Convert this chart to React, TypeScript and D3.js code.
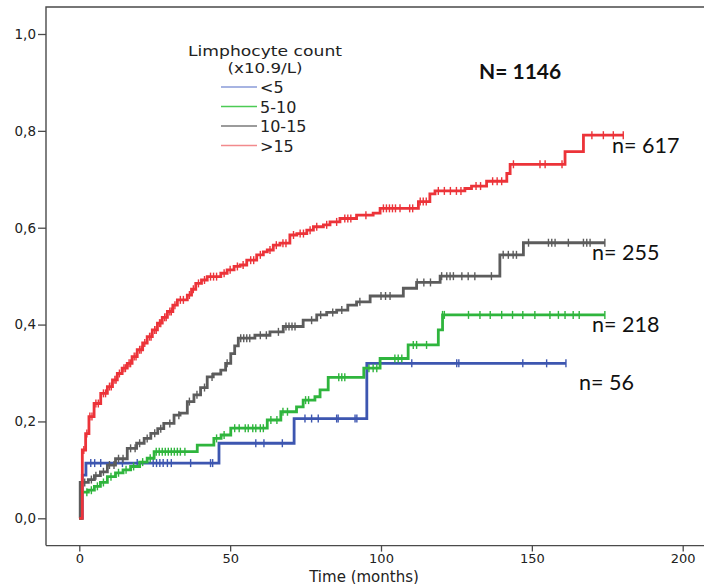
import React, { useEffect, useRef } from "react";
import * as d3 from "d3";

// cumulative incidence steps: [months, value]
const blueSteps = [[0, 0], [1, 0.089], [2.2, 0.114], [46.3, 0.155], [71.2, 0.206], [95.3, 0.32]];
const blueCensor = [3.8, 5.1, 7.1, 14.3, 19.2, 24.5, 25.6, 26.7, 27.8, 29.2, 30.5, 36.9, 43.5, 44.2, 58.5, 61.2, 67.3, 74.8, 77, 79.2, 85.3, 85.8, 91.4, 92, 110.2, 125.1, 125.8, 147, 154.9, 161.3];

const greenSteps = [[0, 0], [0.7, 0.054], [3, 0.058], [5, 0.066], [7, 0.074], [9.3, 0.086], [12, 0.094], [14.5, 0.1], [17, 0.107], [20, 0.116], [22.5, 0.124], [24.8, 0.1375], [39.1, 0.151], [44.6, 0.165], [47, 0.172], [50.2, 0.186], [62.3, 0.203], [66.8, 0.22], [72, 0.23], [74.2, 0.244], [78.1, 0.251], [79.8, 0.265], [82.5, 0.291], [94.3, 0.31], [99.7, 0.33], [109, 0.358], [119, 0.389], [120.4, 0.42]];
const greenCensor = [2.5, 4, 6, 8, 10.5, 13, 15.5, 18, 21, 23.5, 25.5, 26.5, 27.5, 28.5, 29.5, 30.5, 31.5, 32.5, 33.5, 35, 45.5, 48, 51.5, 53, 55, 56, 57.5, 58.5, 60, 61, 63.5, 65.5, 67.5, 69, 75, 76, 86, 87, 88, 96, 97.4, 98.6, 104.6, 105.7, 106.9, 110.7, 111.8, 115.1, 120.4, 121, 129, 132.8, 136.2, 140, 143.6, 147, 151, 156, 158.8, 161, 163.7, 165.7, 174.2];

const graySteps = [[0, 0], [0.3, 0.074], [3, 0.08], [5, 0.088], [7, 0.096], [9.3, 0.11], [12, 0.123], [15.9, 0.1445], [19, 0.155], [21.5, 0.165], [23.7, 0.1755], [26, 0.185], [28, 0.196], [31.4, 0.213], [33.4, 0.217], [35.8, 0.241], [38, 0.255], [40.2, 0.27], [42.4, 0.292], [44.4, 0.298], [46.9, 0.306], [48.5, 0.32], [50.2, 0.34], [51.5, 0.356], [52.7, 0.372], [58.2, 0.378], [63.2, 0.385], [67.6, 0.396], [74.2, 0.409], [78.7, 0.42], [82, 0.425], [85.3, 0.43], [89, 0.44], [91.9, 0.447], [96.4, 0.459], [107.4, 0.475], [111.8, 0.487], [119.6, 0.5], [139.4, 0.544], [147.2, 0.569]];
const grayCensor = [1.8, 4, 5.5, 8, 10, 11.5, 13, 14.5, 17, 18.5, 20, 22.5, 25, 27, 30, 33, 36.5, 39, 41.5, 44, 49, 53.5, 54.5, 55.5, 56.5, 60, 62, 66, 68.5, 69.5, 70.5, 71.5, 77, 80, 84, 87, 93, 100, 101.5, 103, 112, 114.2, 116.4, 120.1, 121.8, 122.9, 124, 126.8, 128.9, 131.1, 136.6, 140.5, 142.2, 143.8, 144.9, 148.9, 155.5, 156.6, 157.7, 162.1, 167.1, 168.2, 169.3, 174.2];

const redSteps = [[0, 0], [1, 0.141], [2.1, 0.175], [3.2, 0.21], [4.9, 0.237], [7.1, 0.258], [9.3, 0.272], [11, 0.286], [12.6, 0.299], [14.2, 0.31], [15.9, 0.32], [17.5, 0.334], [19.2, 0.348], [21, 0.362], [22.5, 0.375], [24.2, 0.389], [25.9, 0.403], [27.5, 0.415], [29.2, 0.427], [31, 0.44], [32.5, 0.451], [35.8, 0.461], [37.2, 0.473], [38.6, 0.485], [40.5, 0.492], [42.4, 0.499], [46.9, 0.506], [49, 0.513], [51.3, 0.52], [53.3, 0.523], [55.5, 0.533], [58.8, 0.544], [61, 0.55], [62.3, 0.554], [64.3, 0.564], [66.5, 0.568], [69.8, 0.585], [72.1, 0.588], [75.4, 0.595], [77.6, 0.602], [80.9, 0.606], [83.1, 0.612], [86.4, 0.619], [91.9, 0.626], [97.4, 0.63], [99.7, 0.64], [112.4, 0.654], [116.2, 0.67], [117.9, 0.676], [127.8, 0.681], [130, 0.686], [135, 0.696], [141.7, 0.712], [142.8, 0.731], [161, 0.757], [167.1, 0.791]];
const redCensor = [1.5, 2.5, 3.5, 4.2, 5.5, 6.3, 8, 8.7, 10, 10.6, 11.8, 12.2, 13.3, 14.8, 15.3, 16.5, 17, 18.2, 18.8, 20, 20.5, 21.7, 23.3, 23.8, 25, 25.5, 26.6, 27, 28.3, 28.8, 30, 30.5, 31.7, 33.5, 34.5, 36.5, 37.8, 39.5, 41.5, 43.5, 44.5, 45.5, 48, 50, 52.4, 54.3, 56.8, 57.8, 60, 63.2, 65.3, 67.5, 68.5, 71, 73.2, 74.3, 76.5, 78.7, 82, 85.3, 88, 89, 90, 95, 100.8, 101.8, 102.8, 103.8, 104.8, 106.3, 109.5, 110.5, 113, 114, 115, 119, 121, 123, 125, 126.5, 131.5, 133, 137, 138.5, 140, 143.9, 152.7, 154.4, 160, 169.9, 173.7, 177, 180.3];

const groups = ["<5", "5-10", "10-15", ">15"];
const groupN = ["n= 56", "n= 218", "n= 255", "n= 617"];
const yTicks = [0, 0.2, 0.4, 0.6, 0.8, 1.0];
const xTicks = [0, 50, 100, 150, 200];

const App = () => {
  const chartRef = useRef(null);

  useEffect(() => {
    const svg = d3.select(chartRef.current);
    svg.selectAll("*").remove();

    const x = d3.scaleLinear().domain([0, 200]).range([79.3, 682.7]);
    const y = d3.scaleLinear().domain([0, 1]).range([518.3, 34]);
    const left = 46, top = 7, bottom = 545.6;
    const axisFont = "'DejaVu Sans', sans-serif";

    // frame
    svg.append("path")
      .attr("d", `M${left},${bottom}V${top}H712M${left},${bottom}H712`)
      .attr("fill", "none").attr("stroke", "#4a4a4a").attr("stroke-width", 1.4);

    const yAxis = svg.append("g")
      .attr("transform", `translate(${left},0)`)
      .call(d3.axisLeft(y).tickValues(yTicks).tickSize(8).tickPadding(2)
        .tickFormat((d) => d3.format(".1f")(d).replace(".", ",")));
    yAxis.select(".domain").remove();
    yAxis.selectAll("line").attr("stroke", "#4a4a4a").attr("stroke-width", 1.3);
    yAxis.selectAll("text").style("font-family", axisFont).style("font-size", "13.5px").attr("fill", "#222");

    const xAxis = svg.append("g")
      .attr("transform", `translate(0,${bottom})`)
      .call(d3.axisBottom(x).tickValues(xTicks).tickSize(6).tickPadding(2));
    xAxis.select(".domain").remove();
    xAxis.selectAll("line").attr("stroke", "#4a4a4a").attr("stroke-width", 1.3);
    xAxis.selectAll("text").style("font-family", axisFont).style("font-size", "13px").attr("fill", "#222");

    svg.append("text").attr("x", 364).attr("y", 581.5).attr("text-anchor", "middle")
      .style("font-family", axisFont).style("font-size", "15px").attr("fill", "#222")
      .text("Time (months)");

    const series = [
      { steps: blueSteps, censor: blueCensor, color: "#3d56b0", light: "#8a9bd8" },
      { steps: greenSteps, censor: greenCensor, color: "#2fb53d", light: "#4ccb55" },
      { steps: graySteps, censor: grayCensor, color: "#5c5c5c", light: "#7a7a7a" },
      { steps: redSteps, censor: redCensor, color: "#ec3339", light: "#f28a8d" },
    ];

    const line = d3.line().x((d) => x(d[0])).y((d) => y(d[1])).curve(d3.curveStepAfter);
    const valueAt = (steps, t) => {
      let v = 0;
      steps.forEach((s) => { if (s[0] <= t) v = s[1]; });
      return v;
    };

    series.forEach((s) => {
      const end = d3.max(s.censor);
      const pts = [...s.steps, [end, s.steps[s.steps.length - 1][1]]];
      svg.append("path").datum(pts).attr("d", line)
        .attr("fill", "none").attr("stroke", s.color).attr("stroke-width", 2.8);
      svg.append("g").selectAll("line").data(s.censor).enter().append("line")
        .attr("x1", (t) => x(t)).attr("x2", (t) => x(t))
        .attr("y1", (t) => y(valueAt(s.steps, t)) - 4)
        .attr("y2", (t) => y(valueAt(s.steps, t)) + 4)
        .attr("stroke", s.color).attr("stroke-width", 1.4);
    });

    // legend
    const lg = svg.append("g").style("font-family", axisFont).attr("fill", "#222");
    lg.append("text").attr("x", 265).attr("y", 56).attr("text-anchor", "middle")
      .style("font-size", "14.5px").attr("textLength", 154).attr("lengthAdjust", "spacingAndGlyphs")
      .text("Limphocyte count");
    lg.append("text").attr("x", 265).attr("y", 72.5).attr("text-anchor", "middle")
      .style("font-size", "14.5px").attr("textLength", 75).attr("lengthAdjust", "spacingAndGlyphs")
      .text("(x10.9/L)");
    groups.forEach((g, i) => {
      const yy = 87 + i * 19.5;
      lg.append("line").attr("x1", 221).attr("x2", 257).attr("y1", yy).attr("y2", yy)
        .attr("stroke", series[i].light).attr("stroke-width", 1.6);
      lg.append("text").attr("x", 260).attr("y", yy + 6).style("font-size", "16px").text(g);
    });

    svg.append("text").attr("x", 479).attr("y", 78.5)
      .style("font-family", "Lato, 'Open Sans', sans-serif").style("font-size", "21px")
      .style("font-weight", "bold").attr("fill", "#111").text("N= 1146");

    const nPos = [[579, 390], [592, 332.3], [592, 260], [612, 153.3]];
    groupN.forEach((t, i) => {
      svg.append("text").attr("x", nPos[i][0]).attr("y", nPos[i][1])
        .style("font-family", "Lato, 'Open Sans', sans-serif").style("font-size", "21.5px")
        .attr("fill", "#111").text(t);
    });
  }, []);

  return (
    <svg ref={chartRef} width={704} height={584}
      style={{ position: "absolute", left: 0, top: 0, background: "#fff" }}></svg>
  );
};

export default App;
